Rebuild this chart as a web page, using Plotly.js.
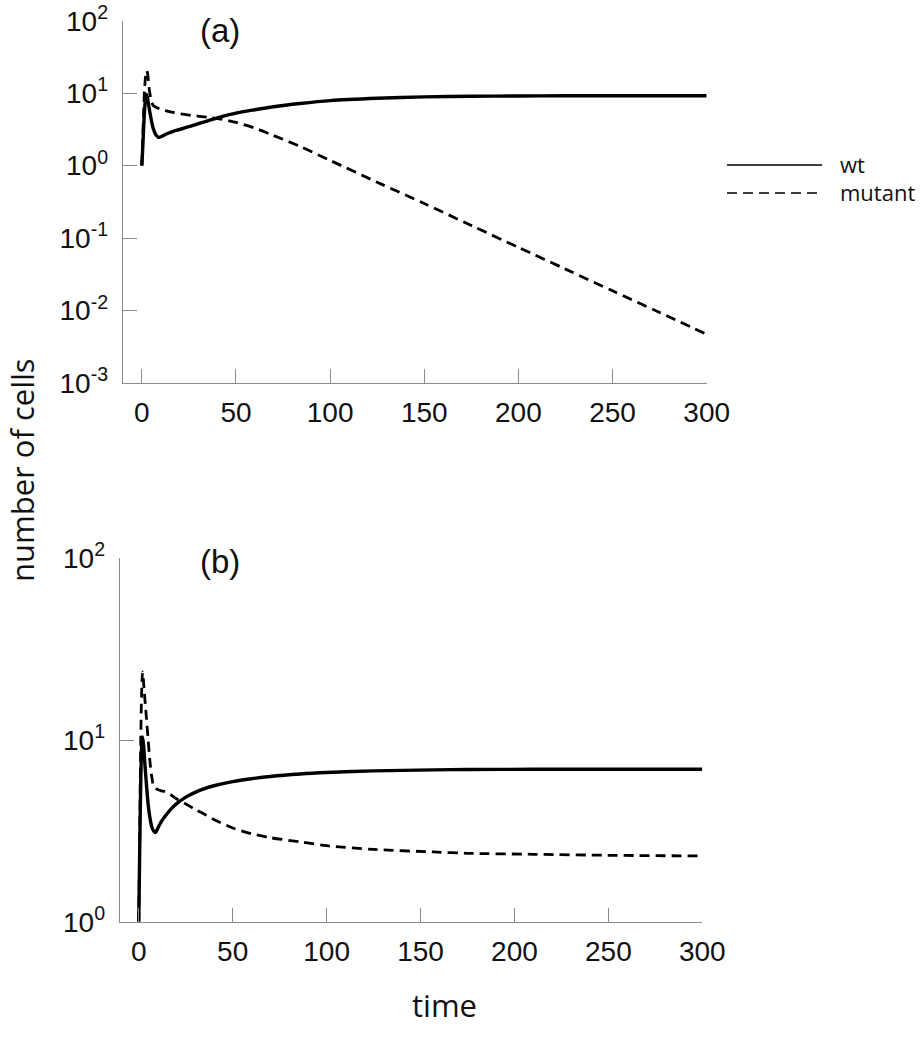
<!DOCTYPE html>
<html>
<head>
<meta charset="utf-8">
<script src="https://cdn.plot.ly/plotly-3.0.1.min.js"></script>
<style>
  html, body { margin: 0; padding: 0; background: #ffffff; }
  #chart { width: 922px; height: 1050px; }
</style>
</head>
<body>
<div id="chart"></div>
<script>
// ---------- data ----------
// panel (a)
const timeA = [0, 0.5, 1, 1.5, 2, 2.5, 3, 3.5, 4, 5, 6, 7, 8, 9, 10, 12, 14, 17, 20, 26, 35, 42, 50, 60, 70, 84, 100, 125, 150, 175, 200, 225, 250, 275, 300];
const wtA = [1.0, 1.8, 3.5, 6.0, 8.6, 9.6, 8.6, 7.2, 6.0, 4.3, 3.3, 2.8, 2.55, 2.45, 2.5, 2.65, 2.8, 3.0, 3.15, 3.5, 4.15, 4.7, 5.3, 5.9, 6.5, 7.2, 7.9, 8.5, 8.9, 9.05, 9.15, 9.2, 9.2, 9.2, 9.2];
const mutantA = [1.0, 2.5, 6.0, 12.0, 17.0, 20.5, 19.0, 15.0, 11.0, 8.0, 6.8, 6.5, 6.3, 6.15, 6.0, 5.8, 5.6, 5.4, 5.2, 4.95, 4.65, 4.4, 3.95, 3.3, 2.6, 1.84, 1.18, 0.59, 0.30, 0.149, 0.0745, 0.0373, 0.0187, 0.0094, 0.0047];
// panel (b)
const timeB = [0, 0.5, 1, 1.5, 2, 2.5, 3, 4, 5, 6, 7, 8, 9, 10, 12, 14, 17, 20, 25, 30, 35, 40, 50, 60, 70, 86, 100, 125, 157, 175, 210, 250, 300];
const wtB = [1.0, 2.5, 5.5, 9.0, 10.4, 9.5, 8.0, 5.8, 4.4, 3.7, 3.3, 3.15, 3.1, 3.25, 3.55, 3.8, 4.15, 4.45, 4.85, 5.15, 5.4, 5.6, 5.9, 6.12, 6.3, 6.5, 6.62, 6.76, 6.85, 6.88, 6.9, 6.9, 6.9];
const mutantB = [1.0, 3.0, 9.0, 18.0, 23.7, 21.0, 18.0, 13.5, 10.0, 7.5, 6.2, 5.5, 5.4, 5.35, 5.25, 5.2, 5.0, 4.75, 4.45, 4.15, 3.9, 3.65, 3.28, 3.05, 2.9, 2.75, 2.62, 2.5, 2.42, 2.38, 2.35, 2.32, 2.30];

// ticks
const xTickVals = [0, 50, 100, 150, 200, 250, 300];
const yTickValsA = [0.001, 0.01, 0.1, 1, 10, 100];
const yTickTextA = ['10<sup>-3</sup>', '10<sup>-2</sup>', '10<sup>-1</sup>', '10<sup>0</sup>', '10<sup>1</sup>', '10<sup>2</sup>'];
const yTickValsB = [1, 10, 100];
const yTickTextB = ['10<sup>0</sup>', '10<sup>1</sup>', '10<sup>2</sup>'];

const seriesNames = ['wt', 'mutant'];
const panelLabels = ['(a)', '(b)'];
const xTitle = 'time';
const yTitle = 'number of cells';

// ---------- styles ----------
const W = 922, H = 1050;
const px = v => v / W;
const py = v => (H - v) / H;
const axisGray = '#8a8a8a';
const tickFont = { family: 'Liberation Sans, Arial, sans-serif', size: 28, color: '#111111' };
const solidLine = { color: '#000000', width: 3.4, dash: 'solid', shape: 'spline', smoothing: 0.8 };
const dashLine = { color: '#000000', width: 2.8, dash: '10px,6px', shape: 'spline', smoothing: 0.8 };

const traces = [
  { x: timeA, y: wtA, xaxis: 'x', yaxis: 'y', mode: 'lines', name: seriesNames[0], line: solidLine, showlegend: false },
  { x: timeA, y: mutantA, xaxis: 'x', yaxis: 'y', mode: 'lines', name: seriesNames[1], line: dashLine, showlegend: false },
  { x: timeB, y: wtB, xaxis: 'x2', yaxis: 'y2', mode: 'lines', name: seriesNames[0], line: solidLine, showlegend: false },
  { x: timeB, y: mutantB, xaxis: 'x2', yaxis: 'y2', mode: 'lines', name: seriesNames[1], line: dashLine, showlegend: false }
];

const xCommon = {
  range: [-10, 300], tickmode: 'array', tickvals: xTickVals,
  ticks: 'inside', ticklen: 14, tickwidth: 1, tickcolor: axisGray,
  showline: true, linecolor: axisGray, linewidth: 1.3,
  showgrid: false, zeroline: false, tickfont: tickFont, ticklabelstandoff: 4
};
const yCommon = {
  type: 'log', tickmode: 'array',
  ticks: 'inside', ticklen: 14, tickwidth: 1, tickcolor: axisGray,
  showline: true, linecolor: axisGray, linewidth: 1.3,
  showgrid: false, zeroline: false, tickfont: tickFont, ticklabelstandoff: 8
};

const legendFont = { family: 'Open Sans, sans-serif', size: 22, color: '#111' };

const layout = {
  width: W, height: H,
  margin: { l: 0, r: 0, t: 0, b: 0 },
  paper_bgcolor: '#ffffff', plot_bgcolor: '#ffffff',
  showlegend: false,
  xaxis: Object.assign({}, xCommon, { domain: [px(123), px(706.7)], anchor: 'y' }),
  yaxis: Object.assign({}, yCommon, { domain: [py(383), py(20.7)], anchor: 'x', range: [-3, 2], tickvals: yTickValsA, ticktext: yTickTextA }),
  xaxis2: Object.assign({}, xCommon, { domain: [px(120), px(702.3)], anchor: 'y2' }),
  yaxis2: Object.assign({}, yCommon, { domain: [py(921.7), py(558.3)], anchor: 'x2', range: [0, 2], tickvals: yTickValsB, ticktext: yTickTextB }),
  shapes: [
    { type: 'line', xref: 'paper', yref: 'paper', x0: px(727), x1: px(822), y0: py(165), y1: py(165), line: { color: '#000', width: 1.6 } },
    { type: 'line', xref: 'paper', yref: 'paper', x0: px(727), x1: px(822), y0: py(193), y1: py(193), line: { color: '#000', width: 1.6, dash: '10px,6px' } }
  ],
  annotations: [
    { text: seriesNames[0], xref: 'paper', yref: 'paper', x: px(838), y: py(164), xanchor: 'left', yanchor: 'middle', height: 26, showarrow: false, font: legendFont },
    { text: seriesNames[1], xref: 'paper', yref: 'paper', x: px(838), y: py(192), xanchor: 'left', yanchor: 'middle', height: 26, showarrow: false, font: legendFont },
    { text: panelLabels[0], xref: 'paper', yref: 'paper', x: px(220), y: py(30), xanchor: 'center', yanchor: 'middle', showarrow: false, font: { family: 'Liberation Sans, Arial, sans-serif', size: 33, color: '#111' } },
    { text: panelLabels[1], xref: 'paper', yref: 'paper', x: px(220), y: py(561), xanchor: 'center', yanchor: 'middle', showarrow: false, font: { family: 'Liberation Sans, Arial, sans-serif', size: 33, color: '#111' } },
    { text: yTitle, xref: 'paper', yref: 'paper', x: px(22), y: py(470), xanchor: 'center', yanchor: 'middle', textangle: -90, showarrow: false, font: { family: 'Open Sans, sans-serif', size: 31, color: '#111' } },
    { text: xTitle, xref: 'paper', yref: 'paper', x: px(444), y: py(1005), xanchor: 'center', yanchor: 'middle', showarrow: false, font: { family: 'Open Sans, sans-serif', size: 31, color: '#111' } }
  ]
};

Plotly.newPlot('chart', traces, layout, { staticPlot: true, displayModeBar: false });
</script>
</body>
</html>
